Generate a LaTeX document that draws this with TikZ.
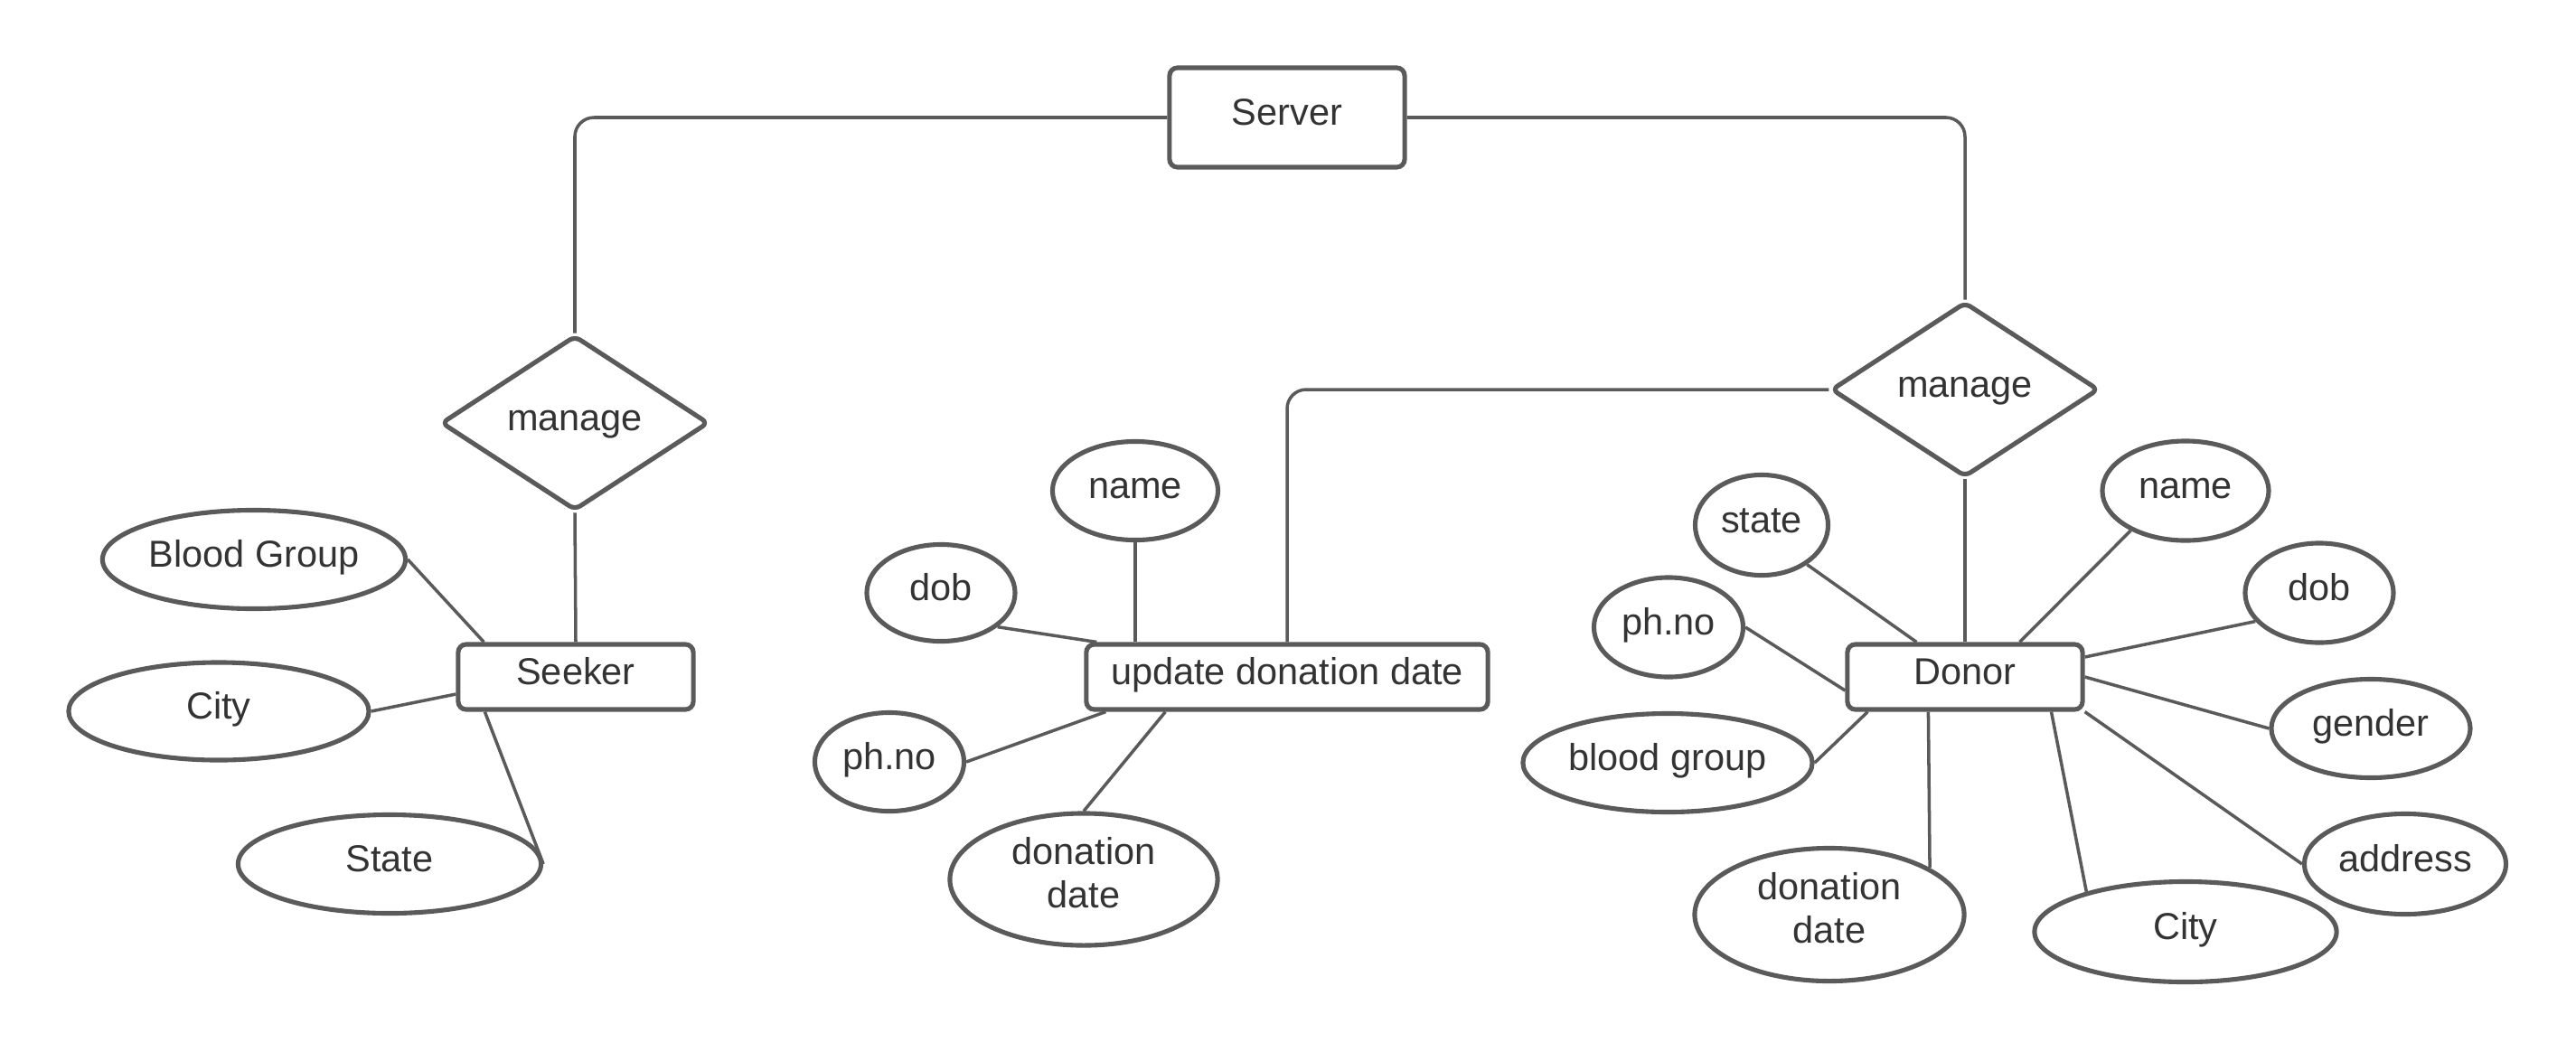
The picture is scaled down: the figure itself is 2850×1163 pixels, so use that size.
\documentclass[tikz,border=0pt]{standalone}
\usepackage{fontspec}
\setmainfont{Liberation Sans}
\usetikzlibrary{shapes.geometric}
\definecolor{erline}{HTML}{5A5A5A}
\definecolor{ertext}{HTML}{333333}

\begin{document}
\begin{tikzpicture}[x=0.01cm, y=-0.01cm,
        every node/.style={font=\fontsize{11.8}{13.6}\selectfont, text=ertext},
        oneline/.style={text height=8.6pt, text depth=3.8pt},
        entity/.style={draw=erline, line width=1.45pt, fill=white, rounded corners=2.5pt, inner sep=0pt, oneline},
        attrbase/.style={ellipse, draw=erline, line width=1.45pt, fill=white, inner sep=0pt, align=center},
        attr/.style={attrbase, oneline},
        rel/.style={diamond, draw=erline, line width=1.45pt, fill=white, rounded corners=2pt, inner sep=0pt,
            minimum width=2.96cm, minimum height=1.84cm, oneline},
        conn/.style={draw=erline, line width=1pt}]
        \useasboundingbox (0,0) rectangle (2850,1163);

        % Server and the two relationships
        \node[entity, minimum width=2.6cm, minimum height=1.1cm] (server) at (1424,130) {Server};
        \node[rel] (mng1) at (636,468) {manage};
        \node[rel] (mng2) at (2174,431) {manage};

        % Entities
        \node[entity, minimum width=2.6cm, minimum height=0.72cm] (seeker) at (637,749) {Seeker};
        \node[entity, minimum width=4.44cm, minimum height=0.72cm] (update) at (1424,749) {update donation date};
        \node[entity, minimum width=2.6cm, minimum height=0.72cm] (donor) at (2174,749) {Donor};

        % Seeker attributes
        \node[attr, minimum width=3.35cm, minimum height=1.09cm] (bgroup1) at (281,619) {Blood Group};
        \node[attr, minimum width=3.32cm, minimum height=1.08cm] (city1) at (242,787) {City};
        \node[attr, minimum width=3.35cm, minimum height=1.09cm] (state1) at (431,956) {State};

        % update donation date attributes
        \node[attr, minimum width=1.83cm, minimum height=1.09cm] (name1) at (1256,543) {name};
        \node[attr, minimum width=1.64cm, minimum height=1.07cm] (dob1) at (1041,656) {dob};
        \node[attr, minimum width=1.65cm, minimum height=1.09cm] (phno1) at (984,843) {ph.no};
        \node[attrbase, text depth=4.5pt, minimum width=2.96cm, minimum height=1.46cm] (ddate1) at (1199,973) {donation\\date};

        % Donor attributes
        \node[attr, minimum width=1.47cm, minimum height=1.11cm] (state2) at (1949,581) {state};
        \node[attr, minimum width=1.65cm, minimum height=1.10cm] (phno2) at (1846,694) {ph.no};
        \node[attr, minimum width=3.20cm, minimum height=1.09cm] (bgroup2) at (1845,844) {blood group};
        \node[attrbase, text depth=4.5pt, minimum width=2.98cm, minimum height=1.47cm] (ddate2) at (2024,1012) {donation\\date};
        \node[attr, minimum width=3.34cm, minimum height=1.11cm] (city2) at (2418,1031) {City};
        \node[attr, minimum width=2.23cm, minimum height=1.11cm] (address) at (2661,956) {address};
        \node[attr, minimum width=2.20cm, minimum height=1.09cm] (gender) at (2623,806) {gender};
        \node[attr, minimum width=1.64cm, minimum height=1.10cm] (dob2) at (2566,656) {dob};
        \node[attr, minimum width=1.84cm, minimum height=1.10cm] (name2) at (2418,543) {name};

        % Server links
        \draw[conn, rounded corners=6pt] (server.west) -| (mng1.north);
        \draw[conn, rounded corners=6pt] (server.east) -| (mng2.north);
        \draw[conn, rounded corners=6pt] (mng2.west) -| (update.north);
        \draw[conn] (mng1.south) -- (seeker.north);
        \draw[conn] (mng2.south) -- (donor.north);

        % Seeker links
        \draw[conn] (bgroup1.east) -- ([xshift=0.31cm]seeker.north west);
        \draw[conn] (city1.east) -- ([yshift=-0.19cm]seeker.west);
        \draw[conn] ([xshift=0.32cm]seeker.south west) -- (state1.east);

        % update donation date links
        \draw[conn] (name1.south) -- (name1.south |- update.north);
        \draw[conn] (dob1.-31) -- ([xshift=0.14cm]update.north west);
        \draw[conn] (phno1.east) -- ([xshift=0.24cm]update.south west);
        \draw[conn] (ddate1.north) -- ([xshift=0.9cm]update.south west);

        % Donor links
        \draw[conn] (state2.-41) -- ([xshift=0.79cm]donor.north west);
        \draw[conn] (phno2.east) -- ([yshift=-0.15cm]donor.west);
        \draw[conn] (bgroup2.east) -- ([xshift=0.25cm]donor.south west);
        \draw[conn] ([xshift=0.92cm]donor.south west) -- (ddate2.25);
        \draw[conn] ([xshift=2.28cm]donor.south west) -- (city2.158);
        \draw[conn] (donor.south east) -- (address.west);
        \draw[conn] (donor.east) -- (gender.west);
        \draw[conn] ([yshift=0.22cm]donor.east) -- (dob2.204);
        \draw[conn] ([xshift=1.93cm]donor.north west) -- (name2.216);
    \end{tikzpicture}
\end{document}
